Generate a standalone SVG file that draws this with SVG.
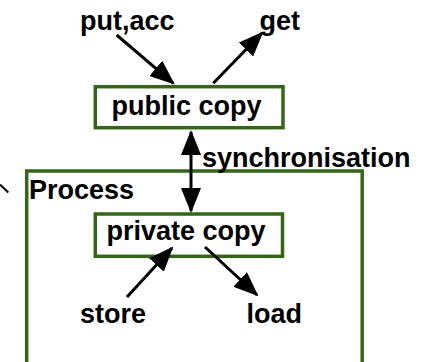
<svg xmlns="http://www.w3.org/2000/svg" width="427" height="362" viewBox="0 0 427 362">
<style>
.box{fill:none;stroke:#336619;stroke-width:3.5}
.lbl{font-family:"Liberation Sans",Arial,sans-serif;font-weight:bold;font-size:27px;fill:#000}
.arr{stroke:#000;stroke-width:3;fill:none}
</style>
<defs>
<marker id="ah" viewBox="0 0 25 20" refX="23" refY="10" markerWidth="25" markerHeight="20" markerUnits="userSpaceOnUse" orient="auto-start-reverse">
<path d="M0,0 L25,10 L0,20 z" fill="#000"/>
</marker>
</defs>
<rect width="427" height="362" fill="#fff"/>
<g id="process">
<rect class="box" x="26.7" y="171" width="335.5" height="220"/>
<text class="lbl" x="29" y="198.5">Process</text>
</g>
<g id="public-copy">
<rect class="box" x="95.3" y="86.7" width="187.7" height="41"/>
<text class="lbl" x="111.5" y="115">public copy</text>
</g>
<g id="private-copy">
<rect class="box" x="95.3" y="214" width="187.2" height="42.3"/>
<text class="lbl" x="106.5" y="240">private copy</text>
</g>
<g id="put-acc"><text class="lbl" x="80" y="30">put,acc</text></g>
<g id="get"><text class="lbl" x="259.5" y="30">get</text></g>
<g id="store"><text class="lbl" x="80" y="323">store</text></g>
<g id="load"><text class="lbl" x="246.5" y="323">load</text></g>
<g id="sync-label"><text class="lbl" x="202" y="167">synchronisation</text></g>
<g id="connectors">
<line class="arr" x1="116.7" y1="35" x2="173.3" y2="83.3" marker-end="url(#ah)"/>
<line class="arr" x1="213.3" y1="83.3" x2="262" y2="33" marker-end="url(#ah)"/>
<line class="arr" x1="191" y1="132" x2="191" y2="211" marker-start="url(#ah)" marker-end="url(#ah)"/>
<line class="arr" x1="127" y1="297" x2="172" y2="248" marker-end="url(#ah)"/>
<line class="arr" x1="205" y1="247" x2="257" y2="295" marker-end="url(#ah)"/>
<line x1="0" y1="184.5" x2="8.3" y2="192.5" stroke="#000" stroke-width="2"/>
</g>
</svg>
